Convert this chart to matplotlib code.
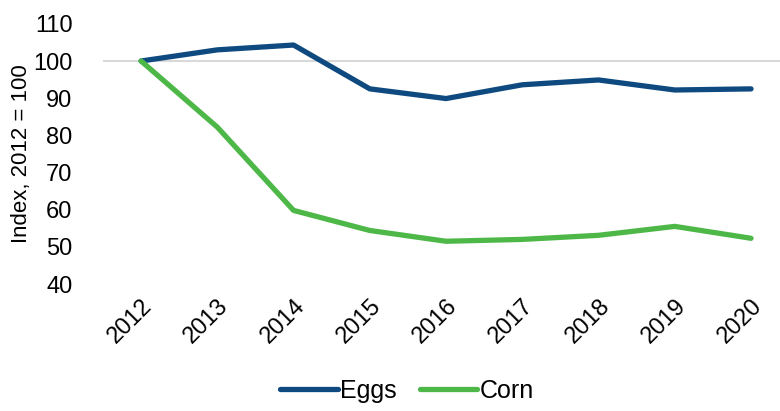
import matplotlib
matplotlib.use("Agg")
import matplotlib.pyplot as plt

plt.rcParams['font.family'] = ['Liberation Sans', 'DejaVu Sans']

years = ['2012', '2013', '2014', '2015', '2016', '2017', '2018', '2019', '2020']
eggs = [100, 103.0, 104.3, 92.5, 89.9, 93.6, 94.9, 92.2, 92.5]
corn = [100, 82.2, 59.8, 54.4, 51.5, 52.0, 53.1, 55.5, 52.3]

fig = plt.figure(figsize=(7.8, 4.11), dpi=100)
ax = fig.add_axes([0.132, 0.309, 0.868, 0.633])

x = range(len(years))
ax.axhline(100, color='#d9d9d9', lw=1.5, zorder=1)
ax.plot(x, eggs, color='#0e4a80', lw=3.8, solid_capstyle='round', label='Eggs', zorder=3)
ax.plot(x, corn, color='#4db848', lw=3.8, solid_capstyle='round', label='Corn', zorder=3)

ax.set_xlim(-0.5, 8.38)
ax.set_ylim(40, 110)
ax.set_yticks(range(40, 111, 10))
ax.set_xticks(list(x))
ax.set_xticklabels(years, rotation=45, ha='right', rotation_mode='anchor')
ax.tick_params(length=0, labelsize=17, pad=8)
ax.tick_params(axis='y', pad=22)
for s in ax.spines.values():
    s.set_visible(False)
ax.set_ylabel('Index, 2012 = 100', fontsize=16)
ax.yaxis.set_label_coords(-0.105, 0.5)

fig.legend(loc='lower center', bbox_to_anchor=(0.522, -0.035), ncol=2, frameon=False,
           fontsize=18, handlelength=2.3, columnspacing=0.9, handletextpad=0.1)

fig.savefig('out.png', dpi=100)
